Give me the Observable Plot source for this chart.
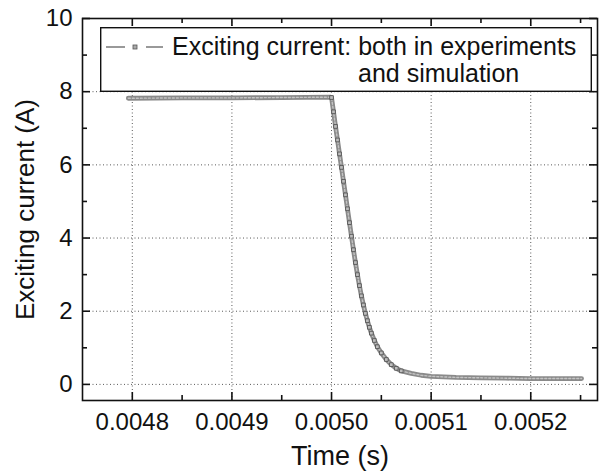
<!DOCTYPE html>
<html>
<head>
<meta charset="utf-8">
<script src="https://cdn.jsdelivr.net/npm/d3@7"></script>
<script src="https://cdn.jsdelivr.net/npm/@observablehq/plot@0.6"></script>
<style>
  html, body { margin: 0; padding: 0; background: #fff; }
  #wrap { position: relative; width: 600px; height: 473px; font-family: 'Liberation Sans', Arial, sans-serif; }
  #legend { position: absolute; left: 100px; top: 27px; }
</style>
</head>
<body>
<div id="wrap"></div>
<script>
// ---- data ----
const timeS = [
  0.004796, 0.00485, 0.0049, 0.00495, 0.004999,
  0.005000, 0.005002, 0.005004, 0.005006, 0.005008, 0.005010,
  0.005012, 0.005014, 0.005016, 0.005018, 0.005020, 0.005022,
  0.005024, 0.005026, 0.005028, 0.005030, 0.005032, 0.005034,
  0.005036, 0.005038, 0.005040, 0.005043, 0.005046, 0.005050,
  0.005055, 0.005060, 0.005065, 0.005070, 0.005080, 0.005090,
  0.005100, 0.005125, 0.005150, 0.005175, 0.005200, 0.005225, 0.005251
];
const currentA = [
  7.82, 7.83, 7.83, 7.84, 7.85,
  7.84, 7.45, 7.05, 6.68, 6.30, 5.93,
  5.55, 5.18, 4.80, 4.42, 4.05, 3.68,
  3.33, 3.00, 2.70, 2.42, 2.17, 1.94,
  1.74, 1.56, 1.40, 1.20, 1.03, 0.86,
  0.68, 0.54, 0.44, 0.37, 0.30, 0.25,
  0.22, 0.19, 0.18, 0.17, 0.16, 0.16, 0.16
];
const xMajor = [0.0048, 0.0049, 0.0050, 0.0051, 0.0052];
const xMinor = [0.00485, 0.00495, 0.00505, 0.00515, 0.00525];
const yMajor = [0, 2, 4, 6, 8, 10];
const yMinor = [1, 3, 5, 7, 9];
const xLabels = ["0.0048", "0.0049", "0.0050", "0.0051", "0.0052"];
const xTitle = "Time (s)";
const yTitle = "Exciting current (A)";
const legendLine1 = "Exciting current: both in experiments";
const legendLine2 = "and simulation";

const data = timeS.map((t, i) => ({t, v: currentA[i]}));
const steep = data.filter(d => d.t >= 0.005 && d.t <= 0.00507);

const W = 600, H = 473, mL = 82, mR = 3, mT = 18, mB = 73;
const frameW = W - mL - mR, frameH = H - mT - mB;
const tickStyle = {stroke: "#111", strokeWidth: 1.6};
// inward ticks: rules spanning the frame, inset so only a short stub remains at the edge
const ticksBottom = (vals, len) => Plot.ruleX(vals, {x: d => d, insetTop: frameH - len, ...tickStyle});
const ticksTop = (vals, len) => Plot.ruleX(vals, {x: d => d, insetBottom: frameH - len, ...tickStyle});
const ticksLeft = (vals, len) => Plot.ruleY(vals, {y: d => d, insetRight: frameW - len, ...tickStyle});
const ticksRight = (vals, len) => Plot.ruleY(vals, {y: d => d, insetLeft: frameW - len, ...tickStyle});

const chart = Plot.plot({
  width: W,
  height: H,
  marginLeft: mL,
  marginRight: mR,
  marginTop: mT,
  marginBottom: mB,
  style: {fontFamily: "'Liberation Sans', Arial, sans-serif", fontSize: "24px", color: "#111", background: "#fff"},
  x: {domain: [0.00475, 0.005267]},
  y: {domain: [-0.44, 10]},
  marks: [
    Plot.gridX(xMajor, {stroke: "#222", strokeOpacity: 0.75, strokeDasharray: "1,2.5"}),
    Plot.gridY(yMajor, {stroke: "#222", strokeOpacity: 0.75, strokeDasharray: "1,2.5"}),
    Plot.line(data, {x: "t", y: "v", stroke: "#8a8a8a", strokeWidth: 4.8}),
    Plot.line(data, {x: "t", y: "v", stroke: "#c4c4c4", strokeWidth: 1.4, strokeDasharray: "2,2"}),
    Plot.dot(steep, {x: "t", y: "v", symbol: "square", r: 2.1, stroke: "#4a4a4a", strokeWidth: 0.8, fill: "#bdbdbd"}),
    // tick labels
    Plot.axisX(xMajor, {anchor: "bottom", tickSize: 0, tickPadding: 12, tickFormat: (d, i) => xLabels[i], label: null, fontSize: 24}),
    Plot.axisY(yMajor, {anchor: "left", tickSize: 0, tickPadding: 10, tickFormat: d3.format("d"), label: null, fontSize: 24}),
    // inward ticks on all four sides
    ticksBottom(xMajor, 8), ticksBottom(xMinor, 5),
    ticksTop(xMajor, 8), ticksTop(xMinor, 5),
    ticksLeft(yMajor, 8), ticksLeft(yMinor, 5),
    ticksRight(yMajor, 8), ticksRight(yMinor, 5),
    Plot.frame({stroke: "#111", strokeWidth: 1.6}),
    Plot.text([xTitle], {frameAnchor: "bottom", dy: 64, fontSize: 27, fill: "#111"}),
    Plot.text([yTitle], {frameAnchor: "left", textAnchor: "middle", dx: -57, rotate: -90, fontSize: 26, fill: "#111"})
  ]
});
const wrap = document.getElementById("wrap");
wrap.appendChild(chart);

// legend box inside the plot area
const ns = "http://www.w3.org/2000/svg";
const lg = document.createElementNS(ns, "svg");
lg.setAttribute("id", "legend");
lg.setAttribute("width", 492);
lg.setAttribute("height", 66);
lg.innerHTML = `
  <rect x="0.7" y="0.7" width="490.6" height="63.6" fill="#fff" stroke="#111" stroke-width="1.4"/>
  <line x1="6" y1="20" x2="25" y2="20" stroke="#777" stroke-width="1.5"/>
  <rect x="33" y="18" width="4" height="4" fill="#aaa" stroke="#555" stroke-width="0.8"/>
  <line x1="46" y1="20" x2="63" y2="20" stroke="#777" stroke-width="1.5"/>
  <text x="72" y="28" font-size="25" fill="#111" font-family="'Liberation Sans', Arial, sans-serif"></text>
  <text x="258" y="55" font-size="25" fill="#111" font-family="'Liberation Sans', Arial, sans-serif"></text>`;
const texts = lg.querySelectorAll("text");
texts[0].textContent = legendLine1;
texts[1].textContent = legendLine2;
wrap.appendChild(lg);
</script>
</body>
</html>
